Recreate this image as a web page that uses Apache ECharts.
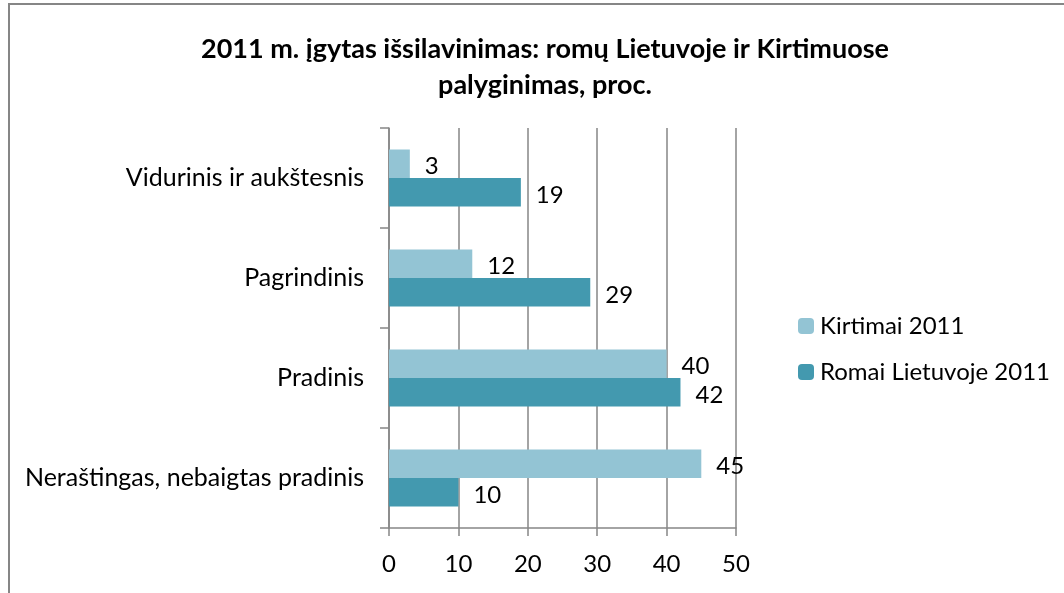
<!DOCTYPE html>
<html>
<head>
<meta charset="utf-8">
<script src="https://cdn.jsdelivr.net/npm/echarts@6/dist/echarts.min.js"></script>
<style>html,body{margin:0;padding:0;background:#fff}#c{width:1064px;height:593px}</style>
</head>
<body>
<div id="c"></div>
<script>
const categories = ['Neraštingas, nebaigtas pradinis', 'Pradinis', 'Pagrindinis', 'Vidurinis ir aukštesnis'];
const kirtimai = [45, 40, 12, 3];
const romai = [10, 42, 29, 19];
const xTicks = [0, 10, 20, 30, 40, 50];
const seriesNames = ['Kirtimai 2011', 'Romai Lietuvoje 2011'];

const FONT = 'Lato, "Open Sans", sans-serif';
const chart = echarts.init(document.getElementById('c'));
const labelCfg = {show: true, position: 'right', distance: 15, offset: [0, 3], color: '#000', fontSize: 24, fontFamily: FONT};
chart.setOption({
  animation: false,
  backgroundColor: '#fff',
  title: {
    text: '2011 m. įgytas išsilavinimas: romų Lietuvoje ir Kirtimuose\npalyginimas, proc.',
    left: 540, top: 26, textAlign: 'center',
    textStyle: {fontSize: 27, fontWeight: 'bold', color: '#000', fontFamily: FONT, lineHeight: 36}
  },
  legend: {
    orient: 'vertical', left: 793, top: 309, itemWidth: 16, itemHeight: 16, itemGap: 22,
    data: seriesNames,
    textStyle: {fontSize: 24, color: '#000', fontFamily: FONT, padding: [0, 0, 0, 1]}
  },
  grid: {left: 389, right: 328, top: 128, bottom: 65, containLabel: false},
  xAxis: {
    type: 'value', min: xTicks[0], max: xTicks[xTicks.length - 1], interval: 10,
    axisLine: {show: true, lineStyle: {color: '#868686', width: 1.5}},
    axisTick: {show: true, length: 8, lineStyle: {color: '#868686', width: 1.5}},
    splitLine: {show: true, lineStyle: {color: '#868686', width: 1.5}},
    axisLabel: {fontSize: 24, color: '#000', margin: 24, fontFamily: FONT}
  },
  yAxis: {
    type: 'category', data: categories,
    axisLine: {show: true, lineStyle: {color: '#868686', width: 1.5}},
    axisTick: {show: true, length: 9, lineStyle: {color: '#868686', width: 1.5}},
    axisLabel: {fontSize: 25, color: '#000', margin: 25, fontFamily: FONT}
  },
  series: [
    {name: seriesNames[0], type: 'bar', data: kirtimai, barGap: '0%', barCategoryGap: '43%',
     itemStyle: {color: '#93C4D4'}, label: labelCfg},
    {name: seriesNames[1], type: 'bar', data: romai, barGap: '0%', barCategoryGap: '43%',
     itemStyle: {color: '#4399AF'}, label: labelCfg}
  ],
  graphic: [{
    type: 'rect', shape: {x: 9, y: 4, width: 1200, height: 800},
    style: {fill: null, stroke: '#868686', lineWidth: 2}, silent: true, z: -1
  }]
});
</script>
</body>
</html>
